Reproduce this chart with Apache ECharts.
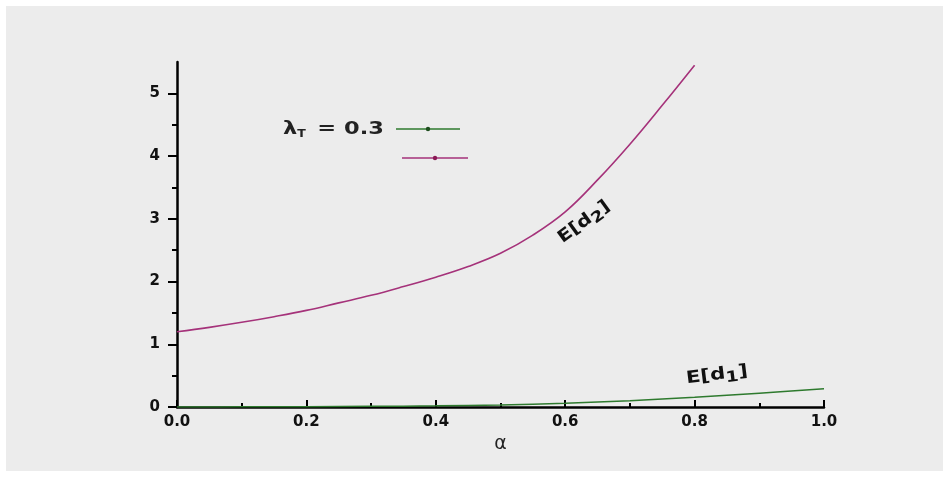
<!DOCTYPE html>
<html>
<head>
<meta charset="utf-8">
<script src="https://cdn.jsdelivr.net/npm/echarts@6/dist/echarts.min.js"></script>
<style>
  html, body { margin: 0; padding: 0; background: #ffffff; }
  #wrap { position: absolute; left: 6px; top: 6px; width: 937px; height: 465px; background: #ececec; }
  #chart { position: absolute; left: 0; top: 0; width: 949px; height: 483px; }
</style>
</head>
<body>
<div id="wrap"></div>
<div id="chart"></div>
<script>
// ---- data ----
const alphaD2 = [0, 0.05, 0.1, 0.15, 0.2, 0.25, 0.3, 0.35, 0.4, 0.45, 0.5, 0.55, 0.6, 0.65, 0.7, 0.75, 0.8];
const valuesD2 = [1.20, 1.27, 1.35, 1.44, 1.54, 1.66, 1.78, 1.92, 2.07, 2.24, 2.45, 2.74, 3.11, 3.62, 4.19, 4.81, 5.45];
const alphaD1 = [0, 0.1, 0.2, 0.3, 0.4, 0.5, 0.6, 0.7, 0.8, 0.9, 1.0];
const valuesD1 = [0, 0.002, 0.005, 0.01, 0.018, 0.033, 0.06, 0.10, 0.155, 0.22, 0.29];
const yLabelValues = [0, 1, 2, 3, 4, 5];
const yMinorValues = [0, 0.5, 1, 1.5, 2, 2.5, 3, 3.5, 4, 4.5, 5];
const xAxisName = 'α';

const GREEN = '#2e7a2e';
const PURPLE = '#a5327a';
const FONT = 'DejaVu Sans, Verdana, sans-serif';

const chart = echarts.init(document.getElementById('chart'), null, { renderer: 'canvas' });

const lblStyle = { fontFamily: FONT, fontWeight: 'bold', fontSize: 15, color: '#111' };

function labelRich(size) {
  return {
    a: { fontFamily: FONT, fontWeight: 'bold', fontSize: size, fill: '#111' },
    s: { fontFamily: FONT, fontWeight: 'bold', fontSize: size - 2, fill: '#111', padding: [9, 0, 0, 0] }
  };
}

chart.setOption({
  backgroundColor: 'transparent',
  animation: false,
  grid: { left: 177, right: 125, top: 62, bottom: 76 },
  xAxis: {
    type: 'value', min: 0, max: 1, interval: 0.2,
    axisLine: { lineStyle: { color: '#000', width: 2.5 } },
    axisTick: { inside: true, length: 7, lineStyle: { color: '#000', width: 2 } },
    minorTick: { show: true, splitNumber: 2, length: 4, lineStyle: { color: '#000', width: 2 } },
    splitLine: { show: false },
    axisLabel: Object.assign({ margin: 8, formatter: v => v.toFixed(1) }, lblStyle),
    name: xAxisName, nameLocation: 'middle', nameGap: 25,
    nameTextStyle: { fontFamily: 'DejaVu Sans, sans-serif', fontSize: 19, color: '#222' }
  },
  yAxis: [{
    type: 'value', min: 0, max: 5.5, interval: 0.5,
    axisLine: { show: true, lineStyle: { color: '#000', width: 2.5 } },
    axisTick: { show: true, length: 5, customValues: yMinorValues, lineStyle: { color: '#000', width: 2 } },
    splitLine: { show: false },
    axisLabel: Object.assign({ margin: 17, customValues: yLabelValues, formatter: v => String(Math.round(v)) }, lblStyle)
  }, {
    type: 'value', min: 0, max: 5.5, interval: 0.5, position: 'left', offset: 0,
    axisLine: { show: false },
    axisTick: { show: true, length: 9, customValues: yLabelValues, lineStyle: { color: '#000', width: 2 } },
    splitLine: { show: false },
    axisLabel: { show: false }
  }],
  series: [{
    name: 'E[d1]', type: 'line', smooth: 0.4, showSymbol: false,
    data: alphaD1.map((a, i) => [a, valuesD1[i]]),
    lineStyle: { color: GREEN, width: 1.5 }, z: 3
  }, {
    name: 'E[d2]', type: 'line', smooth: 0.4, showSymbol: false,
    data: alphaD2.map((a, i) => [a, valuesD2[i]]),
    lineStyle: { color: PURPLE, width: 1.6 }, z: 3
  }],
  graphic: [
    { type: 'text', x: 283, y: 129, scaleX: 1.25, style: {
      text: '{l|λ}{s|T}{l| = 0.3}', verticalAlign: 'middle',
      rich: {
        l: { fontFamily: FONT, fontWeight: 'bold', fontSize: 18, fill: '#222' },
        s: { fontFamily: FONT, fontWeight: 'bold', fontSize: 10, fill: '#222', padding: [10, 3, 0, 0] }
      } } },
    { type: 'line', shape: { x1: 396, y1: 129, x2: 460, y2: 129 }, style: { stroke: GREEN, lineWidth: 1.5 } },
    { type: 'circle', shape: { cx: 428, cy: 129, r: 2.2 }, style: { fill: '#1e4d1e' } },
    { type: 'line', shape: { x1: 402, y1: 158, x2: 468, y2: 158 }, style: { stroke: PURPLE, lineWidth: 1.5 } },
    { type: 'circle', shape: { cx: 435, cy: 158, r: 2.2 }, style: { fill: '#8a1a55' } },
    { type: 'text', x: 584, y: 222, rotation: 36 * Math.PI / 180, scaleX: 1.2, style: {
      text: '{a|E[d}{s|2}{a|]}', align: 'center', verticalAlign: 'middle',
      rich: labelRich(17) } },
    { type: 'text', x: 717, y: 375, rotation: 7 * Math.PI / 180, scaleX: 1.25, style: {
      text: '{a|E[d}{s|1}{a|]}', align: 'center', verticalAlign: 'middle',
      rich: labelRich(17) } }
  ]
});
</script>
</body>
</html>
